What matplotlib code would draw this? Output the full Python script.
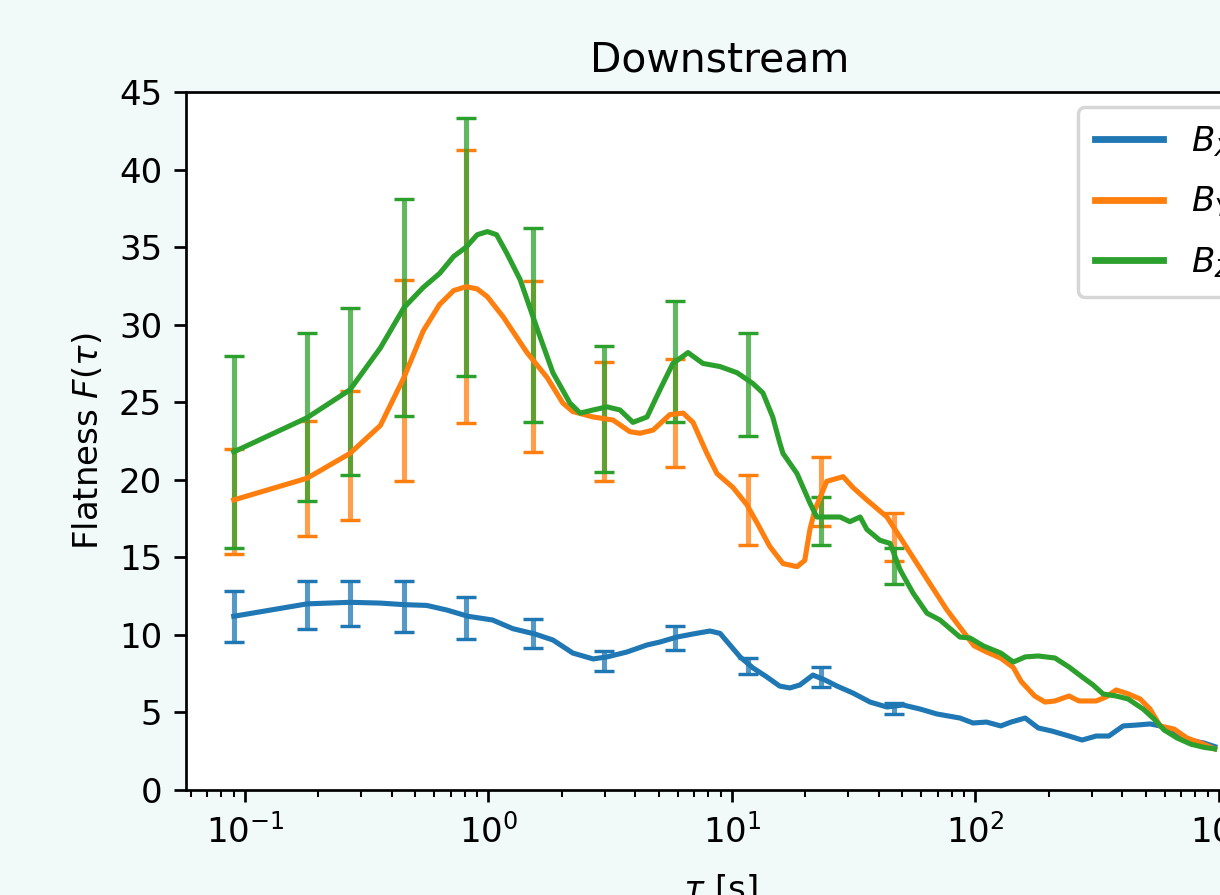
import matplotlib
matplotlib.use('Agg')
import matplotlib.pyplot as plt

# tau [s] and flatness
bx_tau = [0.09, 0.18, 0.27, 0.36, 0.45, 0.558, 0.676, 0.824, 1.04, 1.26, 1.55, 1.84, 2.22, 2.69,
          3.07, 3.71, 4.48, 5.06, 5.94, 6.92, 8.12, 8.93, 9.81, 10.8, 12.2, 13.9, 15.7, 17.3,
          19.0, 21.5, 24.1, 27.0, 31.4, 36.9, 43.3, 50.4, 59.2, 69.5, 86.3, 97.7, 111, 127,
          140, 160, 181, 206, 242, 274, 313, 353, 404, 461, 521, 573, 654, 739, 867, 960]
bx_F = [11.2, 12.0, 12.1, 12.05, 11.95, 11.9, 11.6, 11.2, 10.96, 10.4, 10.06, 9.67, 8.83, 8.45,
        8.58, 8.9, 9.35, 9.54, 9.86, 10.06, 10.25, 10.1, 9.35, 8.58, 7.87, 7.29, 6.7, 6.58,
        6.77, 7.41, 7.09, 6.7, 6.25, 5.67, 5.35, 5.48, 5.22, 4.9, 4.64, 4.32, 4.38, 4.13,
        4.38, 4.64, 4.0, 3.8, 3.48, 3.22, 3.48, 3.48, 4.13, 4.19, 4.26, 4.13, 3.67, 3.22, 3.03, 2.8]

by_tau = [0.09, 0.18, 0.27, 0.36, 0.45, 0.54, 0.63, 0.72, 0.81, 0.90, 0.99, 1.15, 1.44, 1.74,
          2.02, 2.22, 2.69, 3.25, 3.81, 4.19, 4.74, 5.56, 6.30, 6.92, 7.89, 8.68, 10.1, 11.5,
          12.7, 14.3, 16.2, 18.5, 19.9, 20.9, 21.9, 24.5, 28.6, 31.4, 35.8, 43.3, 49.0, 57.5,
          65.0, 76.4, 86.3, 98.6, 111, 127, 143, 154, 175, 193, 212, 242, 266, 313, 344, 378,
          423, 474, 521, 573, 654, 739, 843, 960]
by_F = [18.7, 20.1, 21.7, 23.5, 26.6, 29.6, 31.3, 32.2, 32.45, 32.3, 31.8, 30.5, 28.2, 26.6,
        24.95, 24.4, 24.05, 23.85, 23.1, 23.0, 23.2, 24.2, 24.3, 23.7, 21.7, 20.4, 19.5, 18.4,
        17.2, 15.7, 14.6, 14.4, 14.8, 16.8, 18.05, 19.9, 20.2, 19.5, 18.7, 17.6, 16.3, 14.6,
        13.3, 11.6, 10.5, 9.3, 8.9, 8.5, 7.9, 7.0, 6.06, 5.67, 5.74, 6.06, 5.74, 5.74, 6.0, 6.45,
        6.2, 5.87, 5.22, 4.13, 3.93, 3.35, 3.03, 2.65]

bz_tau = [0.09, 0.18, 0.27, 0.36, 0.45, 0.54, 0.63, 0.72, 0.81, 0.90, 0.99, 1.08, 1.19, 1.35,
          1.58, 1.84, 2.16, 2.38, 2.69, 3.07, 3.47, 3.92, 4.48, 5.06, 5.72, 6.60, 7.60, 8.93,
          10.5, 12.2, 13.4, 14.7, 15.7, 16.2, 18.5, 20.9, 22.3, 24.5, 27.8, 30.5, 33.6, 35.8,
          40.5, 44.6, 49.0, 55.4, 63.2, 71.5, 86.3, 94.9, 108, 127, 143, 160, 181, 212, 242,
          274, 304, 334, 378, 423, 488, 541, 595, 673, 768, 867, 960]
bz_F = [21.8, 24.0, 25.8, 28.5, 31.1, 32.4, 33.3, 34.4, 35.0, 35.8, 36.0, 35.8, 34.6, 32.9,
        29.8, 26.9, 24.95, 24.3, 24.5, 24.7, 24.5, 23.7, 24.05, 25.8, 27.5, 28.2, 27.5, 27.3,
        26.9, 26.2, 25.6, 24.05, 22.4, 21.7, 20.4, 18.5, 17.6, 17.6, 17.6, 17.3, 17.6, 16.8,
        16.1, 15.9, 14.2, 12.7, 11.4, 10.96, 9.86, 9.8, 9.28, 8.83, 8.25, 8.58, 8.64, 8.51, 7.93,
        7.29, 6.77, 6.19, 6.06, 5.87, 5.22, 4.58, 3.87, 3.35, 2.95, 2.75, 2.65]

# points with error bars
err_tau = [0.09, 0.18, 0.27, 0.45, 0.81, 1.53, 2.97, 5.85, 11.61, 23.13, 46.17]
bx_mid = [11.2, 11.95, 12.05, 11.85, 11.1, 10.1, 8.3, 9.8, 8.0, 7.3, 5.25]
bx_err = [1.65, 1.55, 1.45, 1.65, 1.35, 0.95, 0.65, 0.8, 0.5, 0.65, 0.35]
by_mid = [18.6, 20.1, 21.55, 26.4, 32.45, 27.3, 23.75, 24.3, 18.05, 19.25, 16.3]
by_err = [3.4, 3.7, 4.15, 6.5, 8.8, 5.5, 3.85, 3.5, 2.25, 2.25, 1.55]
bz_mid = [21.8, 24.05, 25.7, 31.1, 35.0, 29.95, 24.55, 27.6, 26.15, 17.35, 14.45]
bz_err = [6.2, 5.4, 5.4, 7.0, 8.3, 6.25, 4.05, 3.9, 3.3, 1.55, 1.15]

fig = plt.figure(figsize=(1220 / 245, 895 / 245), dpi=245, facecolor='#f1f9f9')
ax = fig.add_axes([186 / 1220, 105 / 895, 1068 / 1220, 698 / 895])

for mid, err, c in [(bx_mid, bx_err, 'C0'), (by_mid, by_err, 'C1'), (bz_mid, bz_err, 'C2')]:
    _, caps, bars = ax.errorbar(err_tau, mid, yerr=err, fmt='none', ecolor=c, capsize=3)
    for b in bars:
        b.set_alpha(0.75)

ax.plot(bx_tau, bx_F, color='C0', label='$B_X$')
ax.plot(by_tau, by_F, color='C1', label='$B_Y$')
ax.plot(bz_tau, bz_F, color='C2', label='$B_Z$')

ax.set_xscale('log')
ax.set_xlim(0.0573, 1392)
ax.set_ylim(0, 45)
ax.set_yticks(range(0, 46, 5))
ax.set_title('Downstream')
ax.set_xlabel(r'$\tau$ [s]', labelpad=7)
ax.set_ylabel(r'Flatness $F(\tau)$')
leg = ax.legend(loc='upper right', bbox_to_anchor=(1.012, 1.003), labelspacing=0.76, borderpad=0.5)
for line in leg.get_lines():
    line.set_linewidth(2.0)

fig.savefig('out.png', dpi=245)
